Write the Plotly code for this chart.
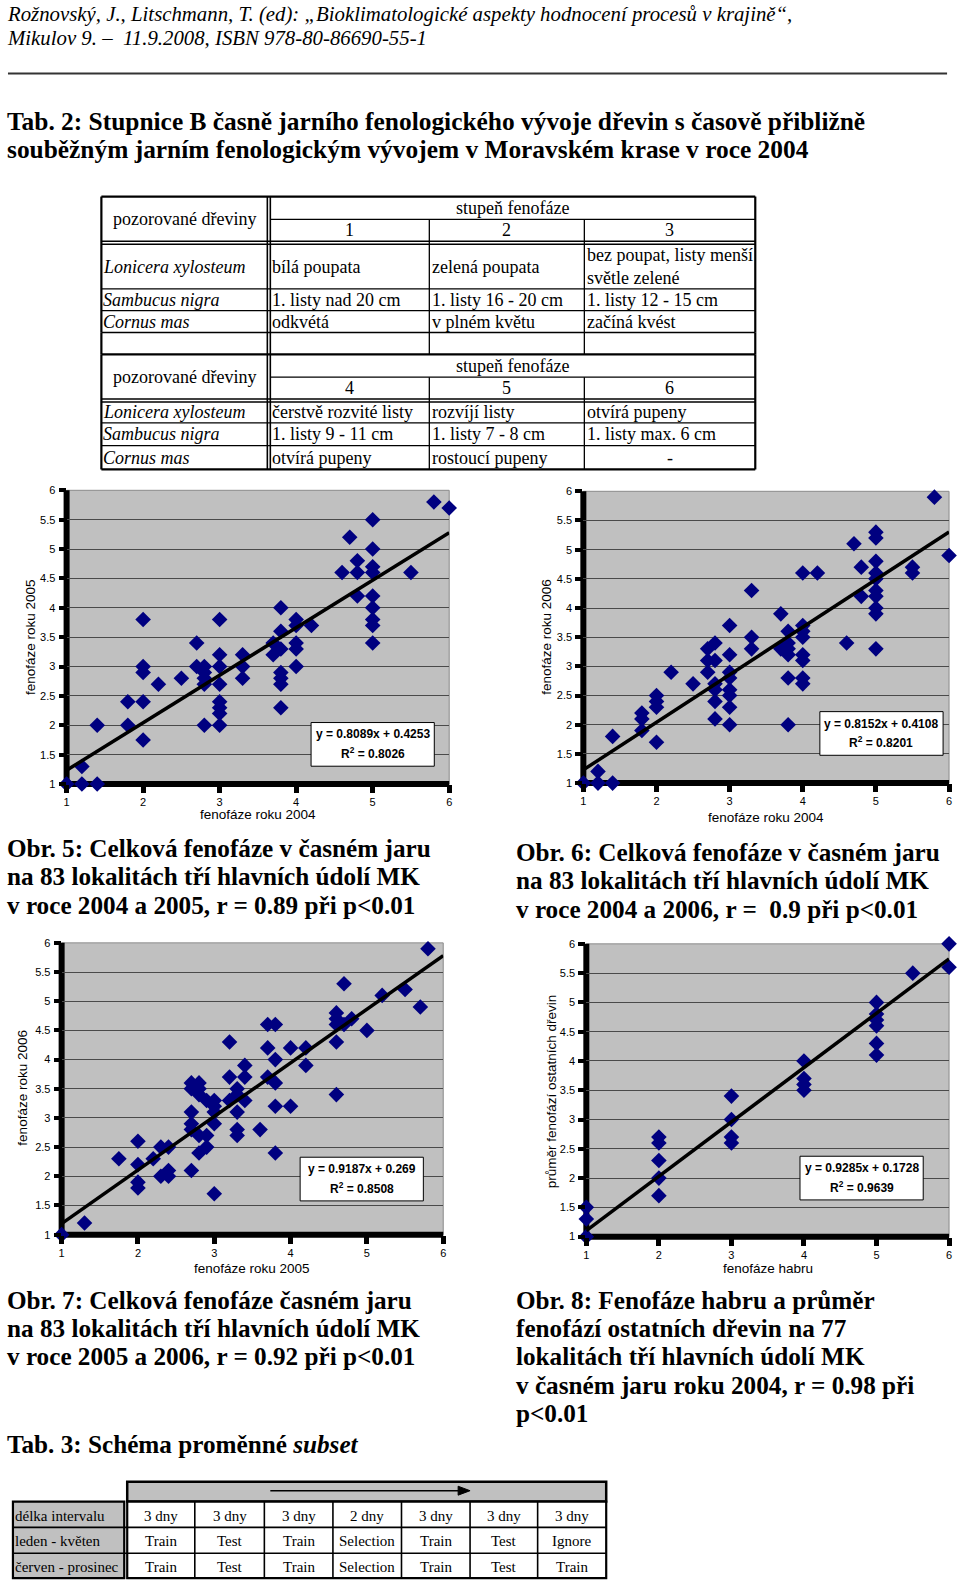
import plotly.graph_objects as go

W, H = 960, 1588


def px(x):
    return x / W


def py(y):
    return 1 - y / H


SERIF = "Liberation Serif, Times New Roman, serif"
SANS = "Liberation Sans, Arial, sans-serif"
NAVY = "#000080"
GRAY = "#c0c0c0"

# ---------------- data ----------------
# Obr. 5: 2004 (x) vs 2005 (y)
obr5_x = [1, 1.2, 1.2, 1.4, 1.4, 1.8, 1.8, 2, 2, 2, 2, 2, 2.2, 2.5, 2.7, 2.7, 2.8, 2.8, 2.8, 2.8, 2.8,
          3, 3, 3, 3, 3, 3, 3, 3, 3.3, 3.3, 3.3, 3.7, 3.7, 3.8, 3.8, 3.8, 3.8, 3.8, 3.8, 3.8,
          4, 4, 4, 4, 4, 4.2, 4.6, 4.7, 4.8, 4.8, 4.8, 5, 5, 5, 5, 5, 5, 5, 5, 5, 5.5, 5.8, 6]
obr5_y = [1, 1, 1.3, 1, 2, 2.4, 2, 1.75, 2.4, 2.9, 3, 3.8, 2.7, 2.8, 3.4, 3, 3, 2.9, 2.8, 2.7, 2,
          3.8, 3.2, 3, 2.7, 2.4, 2.3, 2.2, 2, 3.2, 3, 2.8, 3.2, 3.4, 4, 3.6, 3.3, 2.9, 2.8, 2.7, 2.3,
          3.8, 3.7, 3.4, 3.3, 3, 3.7, 4.6, 5.2, 4.8, 4.6, 4.2, 5.5, 5, 4.7, 4.6, 4.2, 4, 3.8, 3.7, 3.4,
          4.6, 5.8, 5.7]

# Obr. 6: 2004 (x) vs 2006 (y)
obr6_x = [1, 1.2, 1.2, 1.4, 1.4, 1.8, 1.8, 1.8, 2, 2, 2, 2, 2.2, 2.5, 2.7, 2.7, 2.7,
          2.8, 2.8, 2.8, 2.8, 2.8, 2.8, 3, 3, 3, 3, 3, 3, 3, 3, 3.3, 3.3, 3.3, 3.7, 3.7,
          3.8, 3.8, 3.8, 3.8, 3.8, 3.8, 4, 4, 4, 4, 4, 4, 4, 4, 4.2, 4.6, 4.7, 4.8, 4.8,
          5, 5, 5, 5, 5, 5, 5, 5, 5, 5, 5.5, 5.5, 5.8, 6]
obr6_y = [1, 1, 1.2, 1, 1.8, 1.9, 2.1, 2.2, 1.7, 2.3, 2.4, 2.5, 2.9, 2.7, 2.9, 3.1, 3.3,
          3.4, 3.1, 2.7, 2.6, 2.4, 2.1, 3.7, 3.2, 2.9, 2.8, 2.6, 2.5, 2.3, 2, 4.3, 3.5, 3.3, 3.9, 3.3,
          3.6, 3.4, 3.3, 3.2, 2.8, 2, 4.6, 3.7, 3.6, 3.5, 3.2, 3.1, 2.8, 2.7, 4.6, 3.4, 5.1, 4.7, 4.2,
          5.3, 5.2, 4.8, 4.6, 4.5, 4.3, 4.2, 4, 3.9, 3.3, 4.7, 4.6, 5.9, 4.9]

# Obr. 7: 2005 (x) vs 2006 (y)
obr7_x = [1, 1.3, 1.75, 2, 2, 2, 2, 2.2, 2.3, 2.3, 2.4, 2.4, 2.4, 2.7, 2.7, 2.7, 2.7, 2.7, 2.7,
          2.8, 2.8, 2.8, 2.8, 2.8, 2.9, 2.9, 2.9, 3, 3, 3, 3, 3, 3.2, 3.2, 3.2, 3.3, 3.3, 3.3, 3.3, 3.3,
          3.4, 3.4, 3.4, 3.6, 3.7, 3.7, 3.7, 3.8, 3.8, 3.8, 3.8, 3.8, 4, 4, 4.2, 4.2,
          4.6, 4.6, 4.6, 4.6, 4.6, 4.7, 4.7, 4.8, 5, 5.2, 5.5, 5.7, 5.8]
obr7_y = [1, 1.2, 2.3, 1.8, 1.9, 2.2, 2.6, 2.3, 2, 2.5, 2, 2.1, 2.5, 2.1, 2.8, 2.9, 3.1, 3.5, 3.6,
          3.6, 3.5, 3.4, 2.7, 2.4, 2.5, 2.7, 3.3, 1.7, 2.9, 3.1, 3.2, 3.3, 4.3, 3.7, 3.3, 3.5, 3.4, 3.1, 2.8, 2.7,
          3.9, 3.7, 3.3, 2.8, 4.6, 4.2, 3.7, 4.6, 4, 3.6, 3.2, 2.4, 4.2, 3.2, 4.2, 3.9,
          4.8, 4.7, 4.6, 4.3, 3.4, 5.3, 4.6, 4.7, 4.5, 5.1, 5.2, 4.9, 5.9]

# Obr. 8: hornbeam phase (x) vs mean of other trees (y)
obr8_x = [1, 1, 1, 2, 2, 2, 2, 2, 3, 3, 3, 3, 4, 4, 4, 4, 5, 5, 5, 5, 5, 5, 5.5, 6, 6]
obr8_y = [1, 1.3, 1.5, 1.7, 2, 2.3, 2.6, 2.7, 3.4, 3, 2.7, 2.6, 4, 3.7, 3.6, 3.5,
          5, 4.8, 4.7, 4.6, 4.3, 4.1, 5.5, 6, 5.6]

trend_slope = [0.8089, 0.8152, 0.9187, 0.9285]
trend_intercept = [0.4253, 0.4108, 0.269, 0.1728]
trend_r2 = [0.8026, 0.8201, 0.8508, 0.9639]
x_titles = ["fenofáze roku 2004", "fenofáze roku 2004", "fenofáze roku 2005", "fenofáze habru"]
y_titles = ["fenofáze roku 2005", "fenofáze roku 2006", "fenofáze roku 2006",
            "průměr fenofází ostatních dřevin"]
axis_range = [1, 6]

# Tab. 2 content
tab2_header = "pozorované dřeviny"
tab2_group = "stupeň fenofáze"
tab2_species = ["Lonicera xylosteum", "Sambucus nigra", "Cornus mas"]
tab2_stages_a = ["1", "2", "3"]
tab2_stages_b = ["4", "5", "6"]
tab2_cells_a = [["bílá poupata", "zelená poupata", "bez poupat, listy menší<br>světle zelené"],
                ["1. listy nad 20 cm", "1. listy 16 - 20 cm", "1. listy 12 - 15 cm"],
                ["odkvétá", "v plném květu", "začíná kvést"]]
tab2_cells_b = [["čerstvě rozvité listy", "rozvíjí listy", "otvírá pupeny"],
                ["1. listy 9 - 11 cm", "1. listy 7 - 8 cm", "1. listy max. 6 cm"],
                ["otvírá pupeny", "rostoucí pupeny", "-"]]

# Tab. 3 content
tab3_rows = ["délka intervalu", "leden - květen", "červen - prosinec"]
tab3_cells = [["3 dny", "3 dny", "3 dny", "2 dny", "3 dny", "3 dny", "3 dny"],
              ["Train", "Test", "Train", "Selection", "Train", "Test", "Ignore"],
              ["Train", "Test", "Train", "Selection", "Train", "Test", "Train"]]

captions = [
    ["Obr. 5: Celková fenofáze v časném jaru", "na 83 lokalitách tří hlavních údolí MK",
     "v roce 2004 a 2005, r = 0.89 při p<0.01"],
    ["Obr. 6: Celková fenofáze v časném jaru", "na 83 lokalitách tří hlavních údolí MK",
     "v roce 2004 a 2006, r =  0.9 při p<0.01"],
    ["Obr. 7: Celková fenofáze časném jaru", "na 83 lokalitách tří hlavních údolí MK",
     "v roce 2005 a 2006, r = 0.92 při p<0.01"],
    ["Obr. 8: Fenofáze habru a průměr", "fenofází ostatních dřevin na 77",
     "lokalitách tří hlavních údolí MK", "v časném jaru roku 2004, r = 0.98 při", "p<0.01"],
]

series = [(obr5_x, obr5_y), (obr6_x, obr6_y), (obr7_x, obr7_y), (obr8_x, obr8_y)]

# ---------------- layout geometry (pixels) ----------------
panels = [
    dict(l=64, r=449, t=488, b=784, xt=(257, 815), yt=(27, 636), eq=(372, 744), cap=(4, 849)),
    dict(l=584, r=952, t=489, b=783, xt=(768, 818), yt=(547, 636), eq=(884, 733), cap=(516, 853)),
    dict(l=59, r=443, t=944, b=1238, xt=(251, 1272), yt=(20, 1090), eq=(361, 1182), cap=(4, 1304)),
    dict(l=587, r=952, t=945, b=1240, xt=(770, 1272), yt=(552, 1094), eq=(864, 1181), cap=(516, 1304)),
]
CAP_STEP = 28.6
CAP_SIZE = 25.2
EQ_W, EQ_H = 124, 44

fig = go.Figure()
shapes = []
annotations = []
layout_axes = {}


def txt(x, y, s, size, family=SERIF, anchor="left", color="black", angle=0, valign="middle", weight="normal"):
    annotations.append(dict(xref="paper", yref="paper", x=px(x), y=py(y), text=s, showarrow=False,
                            xanchor=anchor, yanchor=valign, textangle=angle, borderpad=0, borderwidth=0,
                            align="left" if anchor == "left" else "center",
                            font=dict(family=family, size=size, color=color, weight=weight)))


def hline(x0, x1, y, w=1.3):
    shapes.append(dict(type="line", xref="paper", yref="paper", x0=px(x0), x1=px(x1), y0=py(y), y1=py(y),
                       line=dict(color="black", width=w)))


def vline(x, y0, y1, w=1.3):
    shapes.append(dict(type="line", xref="paper", yref="paper", x0=px(x), x1=px(x), y0=py(y0), y1=py(y1),
                       line=dict(color="black", width=w)))


def rect(x0, y0, x1, y1, fill=None, w=1.3, layer="below"):
    shapes.append(dict(type="rect", xref="paper", yref="paper", x0=px(x0), x1=px(x1), y0=py(y1), y1=py(y0),
                       fillcolor=fill if fill else "rgba(0,0,0,0)", line=dict(color="black", width=w),
                       layer=layer))


# ---------------- charts ----------------
for i, (p, (xs, ys)) in enumerate(zip(panels, series)):
    sfx = "" if i == 0 else str(i + 1)
    xa, ya = "x" + sfx, "y" + sfx
    fig.add_trace(go.Scatter(x=xs, y=ys, mode="markers", xaxis=xa, yaxis=ya, cliponaxis=False,
                             marker=dict(symbol="diamond", size=12, color=NAVY, line=dict(width=0)),
                             showlegend=False, hoverinfo="skip"))
    lx = list(axis_range)
    ly = [trend_slope[i] * v + trend_intercept[i] for v in lx]
    fig.add_trace(go.Scatter(x=lx, y=ly, mode="lines", xaxis=xa, yaxis=ya, cliponaxis=False,
                             line=dict(color="black", width=3.5), showlegend=False, hoverinfo="skip"))
    layout_axes["xaxis" + sfx] = dict(
        domain=[px(p["l"]), px(p["r"])], range=axis_range, anchor=ya, tickmode="linear", tick0=1, dtick=1,
        ticks="outside", ticklen=8, tickwidth=4.5, tickcolor="black", showgrid=False, zeroline=False,
        showline=False, tickfont=dict(family=SANS, size=11, color="black"), fixedrange=True)
    layout_axes["yaxis" + sfx] = dict(
        domain=[py(p["b"]), py(p["t"])], range=axis_range, anchor=xa, tickmode="linear", tick0=1, dtick=0.5,
        ticks="outside", ticklen=7, tickwidth=3.5, tickcolor="black", showgrid=True, gridcolor="#4a4a4a",
        gridwidth=1, zeroline=False, showline=False, ticklabelstandoff=1,
        tickfont=dict(family=SANS, size=11, color="black"), fixedrange=True)
    # plot frame and thick axes
    shapes.append(dict(type="rect", xref=xa + " domain", yref=ya + " domain", x0=0, x1=1, y0=0, y1=1,
                       line=dict(color="#8a8a8a", width=1), layer="below"))
    shapes.append(dict(type="line", xref=xa + " domain", yref=ya + " domain", x0=0, x1=0, y0=0, y1=1,
                       line=dict(color="black", width=6), layer="below"))
    shapes.append(dict(type="line", xref=xa + " domain", yref=ya + " domain", x0=0, x1=1, y0=0, y1=0,
                       line=dict(color="black", width=6), layer="below"))
    # axis titles
    txt(p["xt"][0], p["xt"][1], x_titles[i], 13.5, family=SANS, anchor="center")
    txt(p["yt"][0], p["yt"][1], y_titles[i], 13.5, family=SANS, anchor="center", angle=-90)
    # equation box (white box above the plot, two separate text lines)
    ex, ey = p["eq"]
    rect(ex - EQ_W / 2, ey - EQ_H / 2, ex + EQ_W / 2, ey + EQ_H / 2, "white", 1, layer="above")
    txt(ex, ey - 10, f"y = {trend_slope[i]}x + {trend_intercept[i]}", 12, family=SANS, anchor="center",
        weight="bold")
    txt(ex, ey + 9, f"R<sup>2</sup> = {trend_r2[i]}", 12, family=SANS, anchor="center", weight="bold")
    # caption
    cx, cy0 = p["cap"]
    for k, line in enumerate(captions[i]):
        txt(cx, cy0 + k * CAP_STEP, line, CAP_SIZE, weight="bold")

# ---------------- header ----------------
txt(4, 8, "<i>Rožnovský, J., Litschmann, T. (ed): „Bioklimatologické aspekty hodnocení procesů v krajině“,</i>", 20.8)
txt(4, 31.3, "<i>Mikulov 9. –  11.9.2008, ISBN 978-80-86690-55-1</i>", 20.8)
shapes.append(dict(type="line", xref="paper", yref="paper", x0=px(5), x1=px(950), y0=py(68), y1=py(68),
                   line=dict(color="#333333", width=2)))
txt(4, 116, "Tab. 2: Stupnice B časně jarního fenologického vývoje dřevin s časově přibližně", 25.4,
    weight="bold")
txt(4, 144, "souběžným jarním fenologickým vývojem v Moravském krase v roce 2004", 25.4, weight="bold")

# ---------------- Tab. 2 ----------------
TL, TC1, TC2, TC3, TR = 99, 266, 429, 585, 757
col_centers = [(TC1 + 3 + TC2) / 2, (TC2 + TC3) / 2, (TC3 + TR) / 2]
col_lefts = [TC1 + 5, TC2 + 3, TC3 + 3]


def tab_block(top, stages, cells, last):
    r_grp = top + 23
    r_num = top + 45
    rows = [(r_num + 3, r_num + 48), (r_num + 48, r_num + 70), (r_num + 70, r_num + 92)] if cells is tab2_cells_a \
        else [(r_num + 3, r_num + 24), (r_num + 24, r_num + 47), (r_num + 47, r_num + 71)]
    hline(TL, TR, top, 2.2)
    hline(TC1 + 3, TR, r_grp)
    hline(TL, TR, r_num, 1.6)
    hline(TL, TR, r_num + 3, 1.6)
    for (a, b) in rows:
        hline(TL, TR, b, 2.2 if (last and (a, b) == rows[-1]) else 1.3)
    bottom = rows[-1][1]
    vline(TL, top, bottom, 2.2)
    vline(TR, top, bottom, 2.2)
    vline(TC1, top, bottom, 1.6)
    vline(TC1 + 3, top, bottom, 1.6)
    vline(TC2, r_grp, bottom)
    vline(TC3, r_grp, bottom)
    txt((TL + TC1) / 2, (top + r_num) / 2, tab2_header, 18, anchor="center")
    txt((TC1 + 3 + TR) / 2, (top + r_grp) / 2, tab2_group, 18, anchor="center")
    for s, cxx in zip(stages, col_centers):
        txt(cxx, (r_grp + r_num) / 2, s, 18, anchor="center")
    for (a, b), sp, row in zip(rows, tab2_species, cells):
        ym = (a + b) / 2
        txt(TL + 2, ym, f"<i>{sp}</i>", 18)
        for j, c in enumerate(row):
            if c == "-":
                txt(col_centers[j], ym, c, 18, anchor="center")
            else:
                parts = c.split("<br>")
                n = len(parts)
                for k, part in enumerate(parts):
                    txt(col_lefts[j], ym + (k - (n - 1) / 2) * 22.5, part, 18)
    return bottom


b1 = tab_block(192, tab2_stages_a, tab2_cells_a, False)
# blank spacer row
vline(TL, b1, 351, 2.2)
vline(TR, b1, 351, 2.2)
vline(TC1, b1, 351, 1.6)
vline(TC1 + 3, b1, 351, 1.6)
vline(TC2, b1, 351)
vline(TC3, b1, 351)
tab_block(351, tab2_stages_b, tab2_cells_b, True)

# ---------------- Tab. 3 ----------------
txt(4, 1449, "Tab. 3: Schéma proměnné <i>subset</i>", CAP_SIZE, weight="bold")
BAR_L, BAR_R, BAR_T, BAR_B = 125, 607, 1487, 1507
rect(BAR_L, BAR_T, BAR_R, BAR_B, GRAY, 2.5)
row_edges = [1507, 1533, 1559, 1584]
col_edges = [125, 193, 263, 332, 401, 470, 538, 607]
rect(10, row_edges[0], 122, row_edges[-1], GRAY, 2.2)
rect(125, row_edges[0], 607, row_edges[-1], "white", 2.2)
for ye in row_edges[1:-1]:
    hline(10, 607, ye, 1.6)
for xe in col_edges[1:-1]:
    vline(xe, row_edges[0], row_edges[-1], 1.6)
# arrow in the header bar
hline(269, 460, 1496, 1.5)
shapes.append(dict(type="path", xref="paper", yref="paper", fillcolor="black", line=dict(color="black", width=1),
                   path=f"M {px(458)},{py(1491.5)} L {px(470)},{py(1496)} L {px(458)},{py(1500.5)} Z"))
for r, (lab, row) in enumerate(zip(tab3_rows, tab3_cells)):
    ym = (row_edges[r] + row_edges[r + 1]) / 2 + 1
    txt(12, ym, lab, 15)
    for j, c in enumerate(row):
        txt((col_edges[j] + col_edges[j + 1]) / 2, ym, c, 15, anchor="center")

fig.update_layout(
    width=W, height=H, autosize=False, margin=dict(l=0, r=0, t=0, b=0),
    paper_bgcolor="white", plot_bgcolor=GRAY, showlegend=False,
    shapes=shapes, annotations=annotations, **layout_axes)

fig.write_html("out.html", config={"displayModeBar": False},
               post_script="document.body.style.margin='0px';document.body.style.overflow='hidden';")
